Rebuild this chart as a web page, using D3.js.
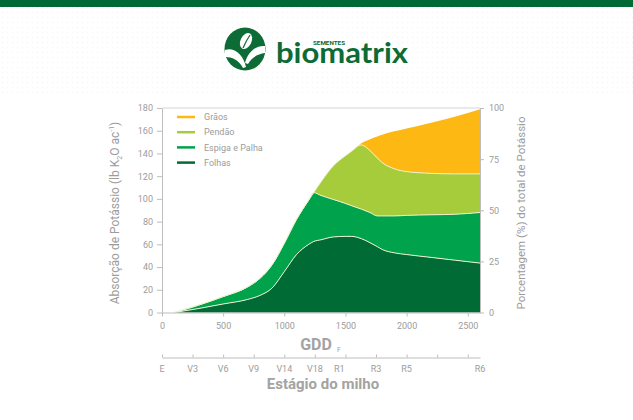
<!DOCTYPE html>
<html>
<head>
<meta charset="utf-8">
<script src="https://cdn.jsdelivr.net/npm/d3@7"></script>
<style>
  body { margin: 0; background: #fff; }
  text { font-family: Roboto, "Open Sans", sans-serif; }
</style>
</head>
<body>
<svg id="chart" width="633" height="420"></svg>
<script>
'use strict';

// GDD points
var gdd = [100, 300, 500, 700, 800, 900, 1000, 1100, 1200, 1240, 1300, 1400, 1500, 1550, 1630, 1700, 1760, 1800, 1900, 2000, 2200, 2400, 2600];

// layer thickness (lb K2O/ac) at each GDD point
var folhas = [0, 3.5, 7.5, 11.5, 15, 21.5, 36, 51, 60, 62.5, 64, 66.5, 67, 67, 65, 61.5, 58, 55.5, 52.5, 51, 48.5, 46, 43.5];
var espiga = [0, 3, 6.5, 11, 15, 20.5, 25, 31, 39, 43, 39, 33, 29, 27, 26, 26.5, 27, 29.5, 32.5, 34.5, 37.5, 40.5, 44.5];
var pendao = [0, 0, 0, 0, 0, 0, 0, 0, 0, 0, 12, 29.5, 42, 48, 56.5, 54.5, 51, 47, 41.5, 38.5, 36.5, 35.5, 34];
var graos  = [0, 0, 0, 0, 0, 0, 0, 0, 0, 0, 0, 0, 0, 0, 1.5, 10, 19, 24.5, 33, 38, 44.5, 50.5, 57];

var seriesNames = ["Folhas", "Espiga e Palha", "Pendão", "Grãos"];
var seriesColors = ["#006b35", "#00a24b", "#a6cb3b", "#fdb813"];

var leftTicks = [0, 20, 40, 60, 80, 100, 120, 140, 160, 180];
var rightTicks = [0, 25, 50, 75, 100];
var gddTicks = [0, 500, 1000, 1500, 2000, 2500];

var stageNames = ["E", "V3", "V6", "V9", "V14", "V18", "R1", "R3", "R5", "R6"];
var stageGdd = [0, 250, 500, 750, 1000, 1250, 1450, 1750, 2000, 2600];

(function() {
    var svg = d3.select("#chart");
    var grey = "#9c9c9c", lineGrey = "#bdbdbd";

    // ---- header ----
    var defs = svg.append("defs");
    var pat = defs.append("pattern").attr("id", "dots")
        .attr("width", 5).attr("height", 5).attr("patternUnits", "userSpaceOnUse");
    pat.append("circle").attr("cx", 2.5).attr("cy", 2.5).attr("r", 0.7).attr("fill", "#f4f4f4");
    svg.append("rect").attr("x", 0).attr("y", 7).attr("width", 633).attr("height", 90).attr("fill", "url(#dots)");
    svg.append("rect").attr("x", 0).attr("y", 0).attr("width", 633).attr("height", 7).attr("fill", "#006a35");

    // logo
    var logo = svg.append("g");
    logo.append("ellipse").attr("cx", 245).attr("cy", 49).attr("rx", 20.5).attr("ry", 21.5).attr("fill", "#0d6b35");
    logo.append("ellipse").attr("cx", 0).attr("cy", 0).attr("rx", 5.5).attr("ry", 8.5)
        .attr("transform", "translate(246,41) rotate(25)").attr("fill", "#fff");
    logo.append("path").attr("d", "M243,48 Q246,41 250,35").attr("stroke", "#0d6b35").attr("stroke-width", 1.2).attr("fill", "none");
    logo.append("path").attr("d", "M225,50 C234,47 243,54 246,67 L243,68 C239,60 232,57 225,57 Z").attr("fill", "#fff");
    logo.append("path").attr("d", "M265,46 C257,45 248,51 245,63 L248,64 C252,57 258,54 265,53 Z").attr("fill", "#fff");

    logo.append("text").attr("x", 313).attr("y", 44.5).attr("textLength", 32).attr("lengthAdjust", "spacingAndGlyphs")
        .style("font-size", "5px").style("font-weight", 700).attr("fill", "#0d6b35").text("SEMENTES");
    logo.append("text").attr("x", 276).attr("y", 63).attr("textLength", 132).attr("lengthAdjust", "spacingAndGlyphs")
        .style("font-family", "Lato, sans-serif").style("font-weight", 700).style("font-size", "29px")
        .attr("fill", "#0d6b35").text("biomatrix");

    // ---- scales ----
    var x = d3.scaleLinear().domain([0, 2600]).range([162, 480]);
    var y = d3.scaleLinear().domain([0, 180]).range([312.5, 108]);
    var yPct = d3.scaleLinear().domain([0, 100]).range([312.5, 108]);

    // ---- stacked areas ----
    var rows = gdd.map(function(g, i) {
        return { gdd: g, "Folhas": folhas[i], "Espiga e Palha": espiga[i], "Pendão": pendao[i], "Grãos": graos[i] };
    });
    var stacked = d3.stack().keys(seriesNames)(rows);

    var area = d3.area()
        .curve(d3.curveMonotoneX)
        .x(function(d) { return x(d.data.gdd); })
        .y0(function(d) { return y(d[0]); })
        .y1(function(d) { return y(d[1]); });
    var topLine = d3.line()
        .curve(d3.curveMonotoneX)
        .x(function(d) { return x(d.data.gdd); })
        .y(function(d) { return y(d[1]); });

    svg.append("g").selectAll("path")
        .data(stacked)
        .enter().append("path")
        .attr("d", area)
        .attr("fill", function(d, i) { return seriesColors[i]; });

    svg.append("g").selectAll("path")
        .data(stacked.slice(0, 3))
        .enter().append("path")
        .attr("d", topLine)
        .attr("fill", "none")
        .attr("stroke", "#eef3cf")
        .attr("stroke-width", 1);

    // ---- axes ----
    function styleAxis(g) {
        g.selectAll("path, line").attr("stroke", lineGrey);
        g.selectAll("text").attr("fill", grey).style("font-size", "9px").style("font-family", "Roboto, sans-serif");
    }

    // top frame line
    svg.append("line").attr("x1", x(0)).attr("x2", x(2600)).attr("y1", y(180)).attr("y2", y(180))
        .attr("stroke", "#d4d4d4");

    svg.append("g").attr("transform", "translate(" + x(0) + ",0)")
        .call(d3.axisLeft(y).tickValues(leftTicks).tickSize(5).tickSizeOuter(0).tickPadding(4))
        .call(styleAxis);

    svg.append("g").attr("transform", "translate(" + x(2600) + ",0)")
        .call(d3.axisRight(yPct).tickValues(rightTicks).tickSize(4).tickSizeOuter(0).tickPadding(5))
        .call(styleAxis);

    svg.append("g").attr("transform", "translate(0," + y(0) + ")")
        .call(d3.axisBottom(x).tickValues(gddTicks).tickFormat(d3.format("d")).tickSize(4).tickSizeOuter(0).tickPadding(6))
        .call(styleAxis);

    // stage axis
    var stageY = 357.5;
    svg.append("g").attr("transform", "translate(0," + stageY + ")")
        .call(d3.axisBottom(x).tickValues(d3.range(0, 2501, 250)).tickFormat("").tickSize(-3).tickSizeOuter(0))
        .call(styleAxis);
    svg.append("g").selectAll("text")
        .data(stageNames)
        .enter().append("text")
        .attr("x", function(d, i) { return x(stageGdd[i]); })
        .attr("y", 372)
        .attr("text-anchor", "middle")
        .attr("fill", grey)
        .style("font-size", "9px")
        .text(function(d) { return d; });

    // ---- titles ----
    var lt = svg.append("text")
        .attr("transform", "translate(119,213) rotate(-90)")
        .attr("text-anchor", "middle")
        .attr("fill", grey)
        .style("font-size", "12px");
    lt.append("tspan").text("Absorção de Potássio (lb K");
    lt.append("tspan").attr("dy", 3).style("font-size", "7px").text("2");
    lt.append("tspan").attr("dy", -3).text("O ac");
    lt.append("tspan").attr("dy", -5).style("font-size", "7px").text("-1");
    lt.append("tspan").attr("dy", 5).text(")");

    svg.append("text")
        .attr("transform", "translate(525,213) rotate(-90)")
        .attr("text-anchor", "middle")
        .attr("fill", grey)
        .style("font-size", "11.5px")
        .text("Porcentagem (%) do total de Potássio");

    svg.append("text").attr("x", 316).attr("y", 350).attr("text-anchor", "middle")
        .attr("fill", "#a3a3a3").style("font-size", "16px").style("font-weight", 700).text("GDD");
    svg.append("text").attr("x", 337).attr("y", 352)
        .attr("fill", "#a3a3a3").style("font-size", "7px").text("F");

    svg.append("text").attr("x", 323).attr("y", 389).attr("text-anchor", "middle")
        .attr("fill", "#a3a3a3").style("font-size", "15px").style("font-weight", 700).text("Estágio do milho");

    // ---- legend ----
    var legendOrder = [3, 2, 1, 0];
    var leg = svg.append("g").selectAll("g")
        .data(legendOrder)
        .enter().append("g")
        .attr("transform", function(d, i) { return "translate(177," + (117 + i * 15.2) + ")"; });
    leg.append("line").attr("x1", 0).attr("x2", 18)
        .attr("stroke", function(d) { return seriesColors[d]; })
        .attr("stroke-width", 2.5);
    leg.append("text").attr("x", 27).attr("y", 3.2)
        .attr("fill", grey).style("font-size", "9px")
        .text(function(d) { return seriesNames[d]; });
})();
</script>
</body>
</html>
